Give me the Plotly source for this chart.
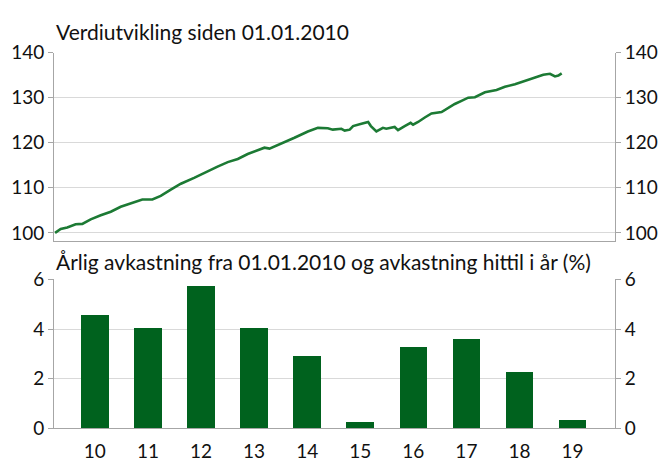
import plotly.graph_objects as go

# ---- Data ----
dates = [
    "2010-01-01", "2010-02-07", "2010-03-22", "2010-05-16", "2010-06-29", "2010-08-23",
    "2010-10-28", "2011-01-02", "2011-03-08", "2011-05-24", "2011-07-28", "2011-10-02",
    "2011-11-26", "2012-01-31", "2012-04-06", "2012-07-02", "2012-09-28", "2012-12-03",
    "2013-02-08", "2013-04-15", "2013-06-19", "2013-08-13", "2013-10-07", "2013-11-09",
    "2014-01-25", "2014-04-22", "2014-07-19", "2014-09-23", "2014-11-27", "2014-12-30",
    "2015-02-24", "2015-03-18", "2015-04-20", "2015-05-12", "2015-07-06", "2015-08-19",
    "2015-09-06", "2015-10-12", "2015-11-24", "2015-12-16", "2016-02-09", "2016-03-02",
    "2016-04-15", "2016-05-24", "2016-06-09", "2016-07-12", "2016-08-25", "2016-10-08",
    "2016-12-13", "2017-01-25", "2017-03-10", "2017-04-23", "2017-06-06", "2017-07-20",
    "2017-09-24", "2017-12-09", "2018-02-02", "2018-04-09", "2018-06-13", "2018-08-18",
    "2018-10-12", "2018-11-25", "2018-12-28", "2019-01-19", "2019-02-10",
]
index_values = [
    100.0, 100.85, 101.2, 101.9, 102.0, 103.0,
    103.9, 104.7, 105.8, 106.7, 107.4, 107.4,
    108.2, 109.6, 110.9, 112.2, 113.7, 114.7,
    115.7, 116.4, 117.5, 118.2, 118.9, 118.7,
    119.8, 121.1, 122.5, 123.3, 123.2, 122.9,
    123.1, 122.7, 122.9, 123.7, 124.2, 124.6,
    123.7, 122.5, 123.3, 123.1, 123.5, 122.8,
    123.7, 124.4, 124.0, 124.6, 125.6, 126.5,
    126.8, 127.7, 128.6, 129.3, 130.0, 130.1,
    131.2, 131.7, 132.4, 133.0, 133.7, 134.4,
    135.1, 135.3, 134.7, 134.9, 135.4,
]

years = ["10", "11", "12", "13", "14", "15", "16", "17", "18", "19"]
annual_return = [4.54, 4.04, 5.72, 4.01, 2.89, 0.23, 3.25, 3.59, 2.25, 0.32]

top_ticks = [100, 110, 120, 130, 140]
bottom_ticks = [0, 2, 4, 6]

title_top = "Verdiutvikling siden 01.01.2010"
title_bottom = "Årlig avkastning fra 01.01.2010 og avkastning hittil i år (%)"

# ---- Style ----
W, H = 665, 468
FONT = "Lato"
LINE_COLOR = "#1c7a34"
BAR_COLOR = "#00621e"
AXIS_COLOR = "#a6a6a6"
GRID_COLOR = "#d9d9d9"

x0, x1 = 54 / W, 615 / W
top_dom = [1 - 241 / H, 1 - 42.7 / H]
bot_dom = [1 - 438 / H, 1 - 281.3 / H]

fig = go.Figure()

fig.add_trace(go.Scatter(x=dates, y=index_values, mode="lines",
                         line=dict(color=LINE_COLOR, width=2.6),
                         xaxis="x", yaxis="y", showlegend=False))
# invisible copy so the right-hand axis is rendered
fig.add_trace(go.Scatter(x=dates, y=index_values, mode="lines",
                         line=dict(color="rgba(0,0,0,0)", width=0),
                         xaxis="x", yaxis="y2", showlegend=False, hoverinfo="skip"))

fig.add_trace(go.Bar(x=years, y=annual_return, marker=dict(color=BAR_COLOR, line=dict(width=0)),
                     width=0.52, xaxis="x2", yaxis="y3", showlegend=False))
fig.add_trace(go.Bar(x=years, y=annual_return, marker=dict(color="rgba(0,0,0,0)", line=dict(width=0)),
                     width=0.52, xaxis="x2", yaxis="y4", showlegend=False, hoverinfo="skip"))

tick_font = dict(family=FONT, size=19, color="#111111")

yax_common = dict(showline=True, linecolor=AXIS_COLOR, linewidth=1,
                  ticks="outside", ticklen=5, tickcolor=AXIS_COLOR, tickwidth=1,
                  tickfont=tick_font, zeroline=False, fixedrange=True)

fig.update_layout(
    width=W, height=H,
    margin=dict(l=0, r=0, t=0, b=0),
    paper_bgcolor="white", plot_bgcolor="white",
    font=dict(family=FONT),
    bargap=0,
    xaxis=dict(domain=[x0, x1], anchor="y", type="date",
               range=["2009-12-25", "2020-01-26"],
               showline=True, linecolor=AXIS_COLOR, linewidth=1,
               showgrid=False, showticklabels=False, ticks="", zeroline=False),
    yaxis=dict(domain=top_dom, anchor="x", range=[98.16, 140],
               tickvals=top_ticks, showgrid=True, gridcolor=GRID_COLOR, gridwidth=1,
               side="left", **yax_common),
    yaxis2=dict(anchor="x", overlaying="y", side="right", range=[98.16, 140],
                tickvals=top_ticks, showgrid=False, **yax_common),
    xaxis2=dict(domain=[x0, x1], anchor="y3", type="category",
                range=[-0.77, 9.8],
                showline=True, linecolor=AXIS_COLOR, linewidth=1,
                showgrid=False, ticks="", tickfont=tick_font, zeroline=False,
                ticklabelstandoff=6),
    yaxis3=dict(domain=bot_dom, anchor="x2", range=[0, 6],
                tickvals=bottom_ticks, showgrid=True, gridcolor=GRID_COLOR, gridwidth=1,
                side="left", **yax_common),
    yaxis4=dict(anchor="x2", overlaying="y3", side="right", range=[0, 6],
                tickvals=bottom_ticks, showgrid=False, **yax_common),
    annotations=[
        dict(text=title_top, xref="paper", yref="paper", x=54 / W, y=1 - 20 / H,
             xanchor="left", yanchor="middle", showarrow=False,
             font=dict(family=FONT, size=21, color="#111111")),
        dict(text=title_bottom, xref="paper", yref="paper", x=54 / W, y=1 - 262 / H,
             xanchor="left", yanchor="middle", showarrow=False,
             font=dict(family=FONT, size=21, color="#111111")),
    ],
)

fig.write_html("out.html", config={"displayModeBar": False})

# remove the browser's default page margin so the figure sits at the window origin
with open("out.html", "r", encoding="utf-8") as f:
    html = f.read()
html = html.replace("<head>", "<head><style>html,body{margin:0;padding:0;overflow:hidden;}</style>", 1)
with open("out.html", "w", encoding="utf-8") as f:
    f.write(html)
